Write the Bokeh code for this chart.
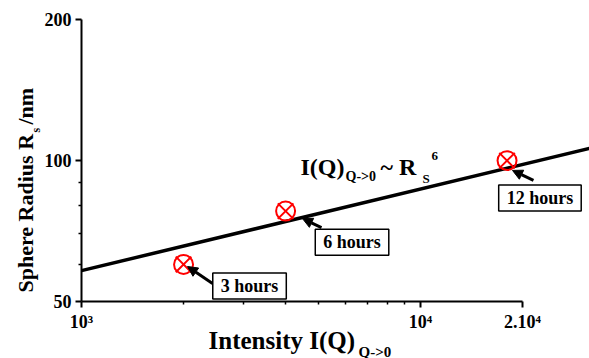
import math
from bokeh.plotting import figure
from bokeh.models import FixedTicker, Label, Arrow, NormalHead, Range1d
from bokeh.embed import file_html
from bokeh.resources import INLINE

# ---- data ----
hours = ["3 hours", "6 hours", "12 hours"]
intensity = [2000, 4000, 18000]
radius = [60, 78, 100]

fit_intensity = [1000, 31500]
fit_radius = [58.2, 106.2]

x_ticks = [1000, 10000, 20000]
x_tick_labels = ["10³", "10⁴", "2.10⁴"]
x_minor = [2000, 3000, 4000, 5000, 6000, 7000, 8000, 9000]
y_ticks = [50, 100, 200]
y_tick_labels = ["50", "100", "200"]
y_minor = [60, 70, 80, 90]

# annotation placements (data coordinates)
box_x = [3131, 6281, 22510]
box_y = [53.96, 66.9, 83.2]
arrow_start_x = [2435, 5105, 21540]
arrow_start_y = [54.6, 71.95, 90.7]
arrow_end_x = [2055, 4486, 18680]
arrow_end_y = [59.4, 75.2, 95.3]

FONT = "Liberation Serif"
W, H = 589, 358
AX_LEFT, AX_BOTTOM = 81, 301        # canvas pixel of x=1e3 and y=50
PX_DEC_X, PX_DEC_Y = 339.0, 468.0   # pixels per decade

x0 = 10 ** (3 - AX_LEFT / PX_DEC_X)
x1 = 10 ** (3 + (W - AX_LEFT) / PX_DEC_X)
y0 = 10 ** (math.log10(50) - (H - AX_BOTTOM) / PX_DEC_Y)
y1 = 10 ** (math.log10(50) + AX_BOTTOM / PX_DEC_Y)


def fxy(cx, cy):
    return cx, H - cy


p = figure(width=W, height=H, x_axis_type="log", y_axis_type="log",
           x_range=Range1d(x0, x1), y_range=Range1d(y0, y1),
           output_backend="svg", toolbar_location=None,
           min_border_left=0, min_border_right=0, min_border_top=0, min_border_bottom=0)
p.xgrid.visible = False
p.ygrid.visible = False
p.outline_line_color = None
p.background_fill_color = "white"
p.border_fill_color = "white"

p.xaxis.ticker = FixedTicker(ticks=x_ticks, minor_ticks=x_minor)
p.yaxis.ticker = FixedTicker(ticks=y_ticks, minor_ticks=y_minor)
p.xaxis.major_label_overrides = {t: s for t, s in zip(x_ticks, x_tick_labels)}
p.yaxis.major_label_overrides = {t: s for t, s in zip(y_ticks, y_tick_labels)}
p.xaxis.bounds = (x_ticks[0], x_ticks[-1])
p.yaxis.bounds = (y_ticks[0], y_ticks[-1])
p.xaxis.fixed_location = y_ticks[0]
p.yaxis.fixed_location = x_ticks[0]
for ax in (p.xaxis[0], p.yaxis[0]):
    ax.axis_label = None
    ax.axis_line_width = 2
    ax.axis_line_color = "black"
    ax.major_tick_line_width = 2
    ax.minor_tick_line_width = 1.5
    ax.major_tick_in = 0
    ax.minor_tick_in = 0
    ax.major_tick_out = 6
    ax.minor_tick_out = 3
    ax.major_label_text_font = FONT
    ax.major_label_text_font_style = "bold"
    ax.major_label_text_font_size = "18px"
    ax.major_label_text_color = "black"
    ax.major_label_standoff = 4

p.line(fit_intensity, fit_radius, line_width=3.5, line_color="black")
p.scatter(intensity, radius, marker="circle", size=19, fill_color=None,
          line_color="red", line_width=2)
p.scatter(intensity, radius, marker="x", size=22, line_color="red", line_width=2)

for i in range(len(hours)):
    p.add_layout(Arrow(end=NormalHead(size=10, fill_color="black", line_color="black"),
                       x_start=arrow_start_x[i], y_start=arrow_start_y[i],
                       x_end=arrow_end_x[i], y_end=arrow_end_y[i],
                       line_width=3, line_color="black"))
for i in range(len(hours)):
    p.add_layout(Label(x=box_x[i], y=box_y[i], text=hours[i], text_align="center",
                       text_baseline="middle", text_font=FONT, text_font_style="bold",
                       text_font_size="18px", text_color="black",
                       background_fill_color="white", border_line_color="black",
                       border_line_width=1.5, padding=(8, 3)))


def lab(text, cx, cy, size, angle=0.0):
    # (cx, cy): canvas pixel of the text's left end, vertically centred
    x, y = fxy(cx, cy)
    p.add_layout(Label(x=x, y=y, x_units="screen", y_units="screen", text=text,
                       text_font=FONT, text_font_style="bold", text_font_size=size,
                       text_color="black", text_align="left", text_baseline="middle",
                       angle=angle))


# formula
lab("I(Q)", 300, 166, "24px")
lab("Q->0", 345, 176, "14px")
lab("~ R", 380, 166, "24px")
lab("S", 422, 178, "13px")
lab("6", 431, 155, "13px")

# x axis title
lab("Intensity I(Q)", 208, 340, "25px")
lab("Q->0", 358, 351, "15px")

# y axis title (rotated)
lab("Sphere Radius R", 25, 292, "22px", math.pi / 2)
lab("s", 35, 132, "12px", math.pi / 2)
lab("/nm", 25, 124, "22px", math.pi / 2)

open("out.html", "w").write(file_html(p, INLINE))
